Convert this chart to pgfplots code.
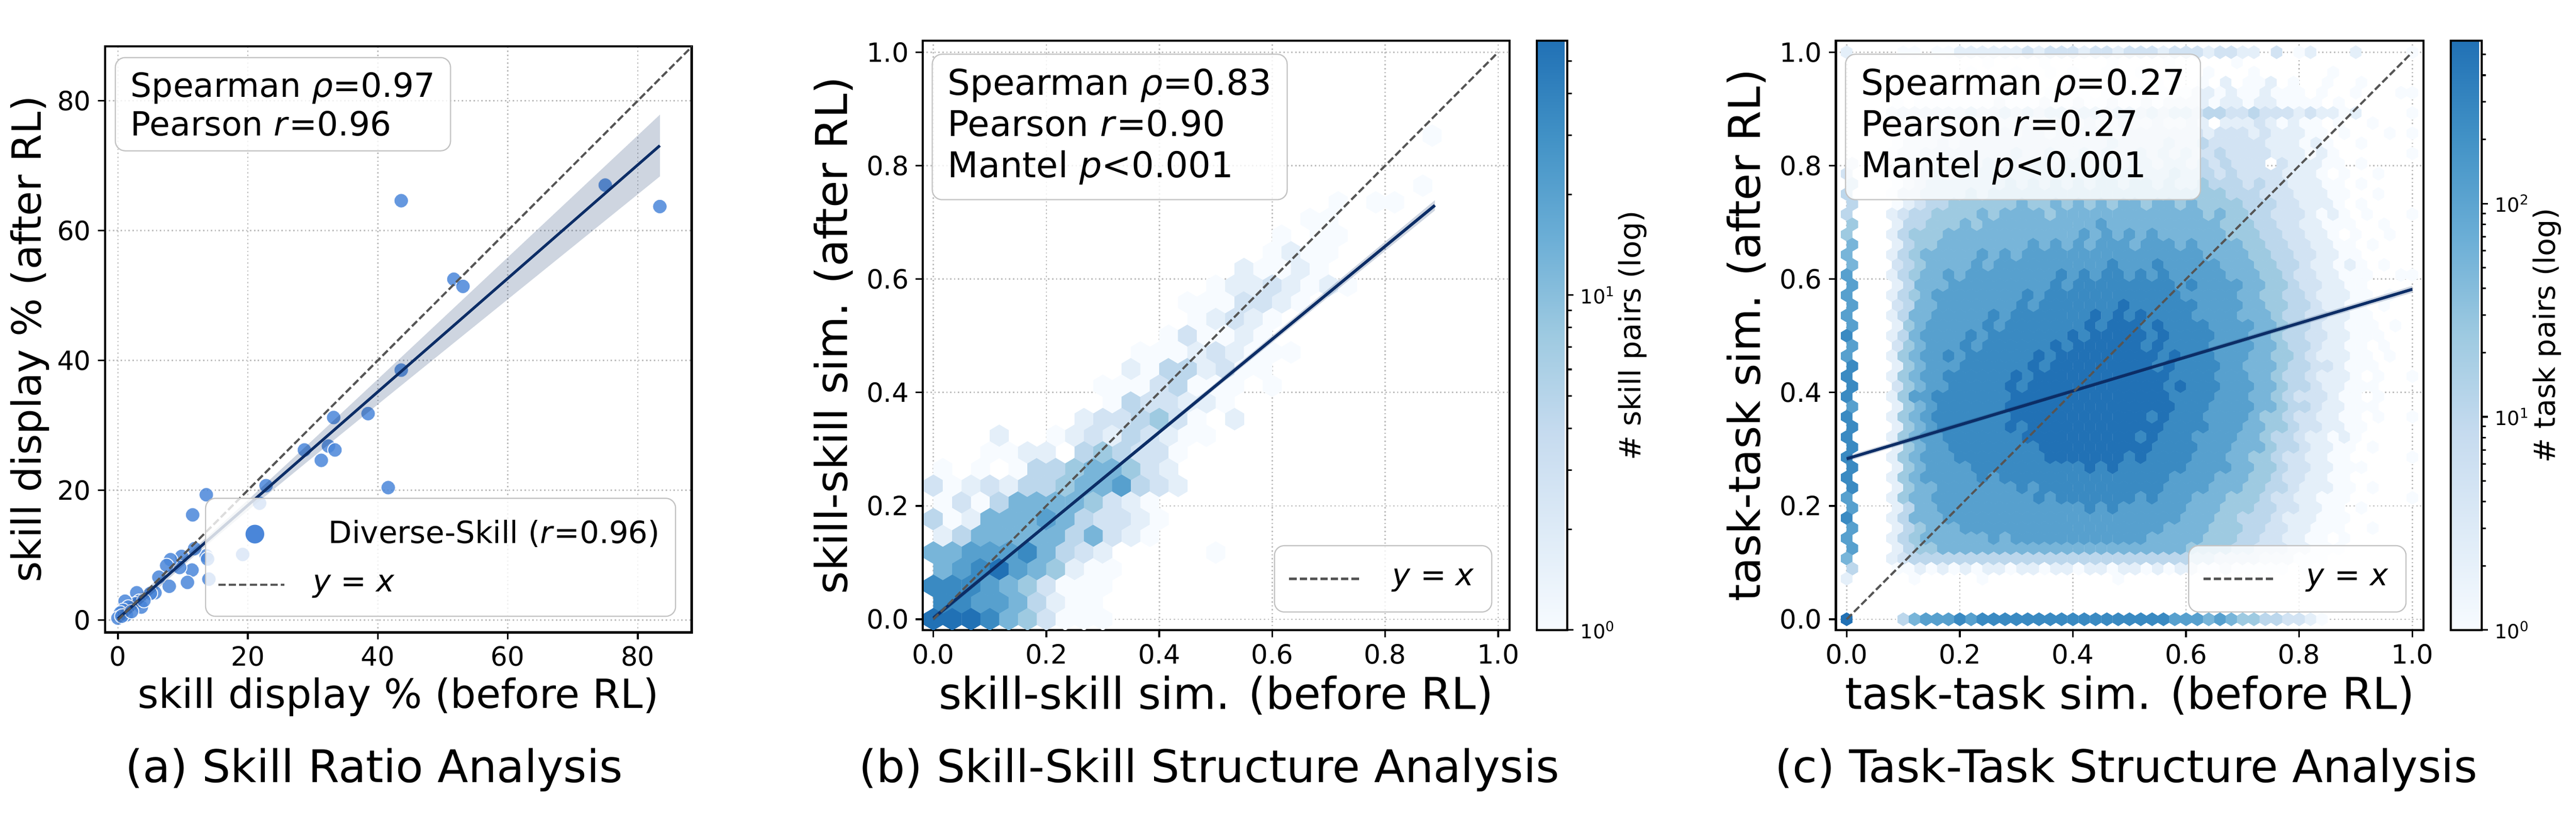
\documentclass[border=0pt]{standalone}
\usepackage{fontspec}
\setmainfont{DejaVu Sans}
\usepackage{pgfplots}
\usepackage{pgfplotstable}
\pgfplotsset{compat=1.18}

\definecolor{dotblue}{RGB}{74,134,217}
\definecolor{regnavy}{RGB}{12,45,102}
\definecolor{idgray}{RGB}{85,85,85}
\definecolor{boxgray}{RGB}{195,195,195}
\definecolor{gridgray}{RGB}{190,190,190}

% hexagon marks, sized to the axis scale (1 px = 0.24pt)
\pgfdeclareplotmark{hexb}{%
  \pgfpathmoveto{\pgfqpoint{0pt}{5.75pt}}%
  \pgfpathlineto{\pgfqpoint{4.86pt}{2.87pt}}%
  \pgfpathlineto{\pgfqpoint{4.86pt}{-2.87pt}}%
  \pgfpathlineto{\pgfqpoint{0pt}{-5.75pt}}%
  \pgfpathlineto{\pgfqpoint{-4.86pt}{-2.87pt}}%
  \pgfpathlineto{\pgfqpoint{-4.86pt}{2.87pt}}%
  \pgfpathclose\pgfusepathqfill}
\pgfdeclareplotmark{hexc}{%
  \pgfpathmoveto{\pgfqpoint{0pt}{3.50pt}}%
  \pgfpathlineto{\pgfqpoint{2.93pt}{1.75pt}}%
  \pgfpathlineto{\pgfqpoint{2.93pt}{-1.75pt}}%
  \pgfpathlineto{\pgfqpoint{0pt}{-3.50pt}}%
  \pgfpathlineto{\pgfqpoint{-2.93pt}{-1.75pt}}%
  \pgfpathlineto{\pgfqpoint{-2.93pt}{1.75pt}}%
  \pgfpathclose\pgfusepathqfill}

\pgfplotsset{
  colormap={bluestr}{rgb255=(247,251,255) rgb255=(222,235,247) rgb255=(198,219,239) rgb255=(158,202,225) rgb255=(107,174,214) rgb255=(66,146,198) rgb255=(33,113,181)},
  dotlegend/.style={legend image code/.code={\draw[draw=none] (0pt,0pt) -- (33.6pt,0pt);}},
  linelegend/.style={legend image code/.code={\draw[##1] (0pt,0pt) -- (#1,0pt);}},
  panel/.style={
    scale only axis,
    clip marker paths=true,
    axis line style={line width=1.1pt},
    tick style={black, line width=0.9pt},
    major tick length=3.6pt,
    tick align=outside,
    xtick pos=bottom, ytick pos=left,
    grid=major,
    major grid style={gridgray, line width=0.7pt, dash pattern=on 0.7pt off 1.3pt},
    tick label style={font=\fontsize{13.5}{16}\selectfont},
    /pgf/number format/assume math mode=true,
    every axis y label/.style={at={([xshift=-32.6pt]axis description cs:0,0.5)}, rotate=90, anchor=base},
    every axis x label/.style={at={([yshift=-38.6pt]axis description cs:0.5,0)}, anchor=base},
  },
  hexpanel/.style={
    panel,
    xmin=-0.019, xmax=1.02, ymin=-0.019, ymax=1.02,
    restrict y to domain=-1:2,
    xtick={0,0.2,0.4,0.6,0.8,1}, ytick={0,0.2,0.4,0.6,0.8,1},
    xticklabel style={/pgf/number format/.cd, fixed, fixed zerofill, precision=1},
    yticklabel style={/pgf/number format/.cd, fixed, fixed zerofill, precision=1},
    every axis y label/.style={at={([xshift=-38.6pt]axis description cs:0,0.5)}, rotate=90, anchor=base},
    every axis x label/.style={at={([yshift=-40.4pt]axis description cs:0.5,0)}, anchor=base},
    label style={font=\fontsize{22.4}{26}\selectfont},
    colormap name=bluestr,
    colorbar,
    legend style={at={(1,0)}, anchor=south east, xshift=-8.7pt, yshift=8.9pt,
      draw=boxgray, line width=0.6pt, rounded corners=5pt, fill=white, fill opacity=0.8,
      text opacity=1, draw opacity=1, font=\fontsize{15.6}{18}\selectfont,
      inner xsep=7pt, inner ysep=9.9pt,
      /tikz/every odd column/.append style={column sep=14pt}},
  },
  cbar/.style={
    at={(parent axis.north east)}, anchor=north west, xshift=5.4pt,
    width=15.6pt,
    grid=none,
    axis line style={line width=1.1pt},
    ytick pos=right, yticklabel pos=right,
    tick align=outside,
    major tick length=3.2pt, minor tick length=2.3pt,
    tick style={black, line width=0.8pt},
    yticklabel style={font=\fontsize{10}{12}\selectfont},
    every axis y label/.style={at={([xshift=37.4pt]axis description cs:1,0.5)}, rotate=90, anchor=base},
  },
}
\tikzset{statbox/.style={draw=boxgray, line width=0.6pt, rounded corners=5pt, fill=white,
  fill opacity=0.8, text opacity=1, align=left, anchor=north west, inner xsep=7.9pt, inner ysep=7.5pt}}
% legend symbol of the scatter series: a filled circle glyph set in the legend text
\newcommand\dotsym{\llap{\raisebox{1.4pt}{\makebox[0pt][c]{\fontsize{12.5}{12.5}\selectfont\textcolor{dotblue}{●}}}\hspace{37.4pt}}}

% hexbin counts of panel (b), as colour levels 1..9 (0 = empty hexagon)
% first column: row r (y = r/34, odd rows shifted by half a cell); then cells i = 0..27 (x = i/30)
\pgfplotstableread[header=false]{
29 0 0 0 0 0 0 0 0 0 0 0 0 0 0 0 0 0 0 0 0 0 0 0 0 0 0 1 0
26 0 0 0 0 0 0 0 0 0 0 0 0 0 0 0 0 0 0 0 0 0 0 0 0 0 0 1 0
25 0 0 0 0 0 0 0 0 0 0 0 0 0 0 0 0 0 0 0 0 0 1 0 1 1 0 0 0
24 0 0 0 0 0 0 0 0 0 0 0 0 0 0 0 0 0 0 0 0 1 1 0 0 0 0 0 0
23 0 0 0 0 0 0 0 0 0 0 0 0 0 0 0 0 0 0 1 0 1 1 0 0 0 0 0 0
22 0 0 0 0 0 0 0 0 0 0 0 0 0 0 0 0 0 0 1 2 1 1 0 0 0 0 0 0
21 0 0 0 0 0 0 0 0 0 0 0 0 0 0 0 0 2 1 1 2 1 0 0 0 0 0 0 0
20 0 0 0 0 0 0 0 0 0 0 0 0 0 0 0 1 2 2 3 2 1 2 1 0 0 0 0 0
19 0 0 0 0 0 0 0 0 0 0 0 0 0 1 1 1 3 3 2 1 0 0 0 0 0 0 0 0
18 0 0 0 0 0 0 0 0 0 0 0 0 0 0 1 2 3 2 1 0 0 0 0 0 0 0 0 0
17 0 0 0 0 0 0 0 0 0 0 0 0 1 3 1 1 2 1 0 0 0 0 0 0 0 0 0 0
16 0 0 0 0 0 0 0 0 0 0 0 1 1 1 2 3 2 1 1 1 0 0 0 0 0 0 0 0
15 0 0 0 0 0 0 0 0 0 0 2 1 4 4 2 3 1 1 0 0 0 0 0 0 0 0 0 0
14 0 0 0 0 0 0 0 0 0 1 1 1 3 4 1 1 1 0 1 0 0 0 0 0 0 0 0 0
13 0 0 0 0 0 0 0 0 0 1 4 3 3 2 2 1 0 0 0 0 0 0 0 0 0 0 0 0
12 0 0 0 0 0 0 0 0 2 3 3 4 5 3 1 0 2 0 0 0 0 0 0 0 0 0 0 0
11 0 0 0 2 0 0 1 2 3 2 4 3 2 1 1 0 0 0 0 0 0 0 0 0 0 0 0 0
10 0 0 0 1 1 2 2 0 4 5 4 3 3 1 0 0 0 0 0 0 0 0 0 0 0 0 0 0
9 1 0 1 0 1 4 4 5 6 6 5 3 2 0 0 0 0 0 0 0 0 0 0 0 0 0 0 0
8 3 1 2 3 2 4 4 5 6 6 7 4 3 2 0 0 0 0 0 0 0 0 0 0 0 0 0 0
7 1 3 1 4 6 6 6 6 5 3 2 1 0 0 0 0 0 0 0 0 0 0 0 0 0 0 0 0
6 4 1 2 6 6 6 7 6 4 3 3 2 1 0 0 0 0 0 0 0 0 0 0 0 0 0 0 0
5 2 4 6 6 6 6 6 4 6 3 2 1 0 0 0 0 0 0 0 0 0 0 0 0 0 0 0 0
4 6 6 7 7 7 8 6 4 3 2 0 0 0 0 0 1 0 0 0 0 0 0 0 0 0 0 0 0
3 6 7 8 9 7 6 5 2 1 1 0 0 0 0 0 0 0 0 0 0 0 0 0 0 0 0 0 0
2 8 8 8 7 6 5 3 1 1 1 0 0 0 0 0 0 0 0 0 0 0 0 0 0 0 0 0 0
1 8 8 7 7 6 4 2 1 1 0 0 0 0 0 0 0 0 0 0 0 0 0 0 0 0 0 0 0
0 9 9 9 8 6 5 3 1 1 1 0 0 0 0 0 0 0 0 0 0 0 0 0 0 0 0 0 0
}\hexB

% hexbin counts of panel (c): row r (y = r/56), cells i = 0..50 (x = i/50)
\pgfplotstableread[header=false]{
56 2 0 0 0 0 1 1 0 1 1 2 2 2 2 2 2 3 2 3 3 3 2 3 3 2 3 3 3 2 3 3 3 2 3 3 2 2 0 3 0 1 2 0 0 0 2 0 0 0 0 1
55 0 0 0 0 0 0 0 0 0 0 0 0 1 0 0 0 0 1 0 0 0 0 0 1 0 0 0 0 1 0 0 0 0 0 1 0 0 0 0 0 0 0 0 0 0 0 0 0 0 0 0
54 0 0 0 0 0 0 0 0 0 0 0 1 0 0 0 1 0 0 1 0 1 0 0 1 0 0 1 0 0 1 0 0 1 0 0 0 1 0 0 0 0 0 0 1 0 0 0 0 0 0 0
53 0 0 0 0 0 0 0 0 0 0 0 0 0 1 0 0 1 0 0 0 0 1 0 0 1 0 0 1 0 0 0 1 0 2 0 1 1 2 0 1 0 0 1 0 0 1 0 0 0 0 0
52 0 0 0 0 0 0 0 0 1 0 1 0 1 1 0 1 1 0 1 1 1 1 0 1 1 1 1 0 1 1 1 2 2 1 2 1 1 2 1 1 1 0 1 0 0 1 0 0 0 1 1
51 0 0 0 0 1 0 1 1 1 1 1 1 1 2 1 1 1 2 1 1 2 1 1 2 1 1 2 1 2 2 2 2 1 2 2 1 2 2 1 1 1 1 0 1 0 0 0 0 0 0 0
50 0 0 0 0 2 3 3 3 3 3 3 4 3 3 4 3 4 3 4 4 3 4 4 3 4 4 3 4 3 4 4 3 4 4 3 3 4 3 3 3 2 3 2 2 1 2 0 0 0 0 1
49 0 0 0 0 0 1 1 1 2 2 2 2 2 2 2 3 2 2 3 2 2 3 2 2 3 2 2 3 2 2 3 2 0 2 2 2 3 2 1 2 1 1 0 1 0 0 1 0 0 0 0
48 0 0 0 0 1 1 2 2 2 2 2 3 2 3 3 2 3 3 2 3 3 3 3 3 2 3 3 3 3 3 3 3 2 3 3 3 2 3 2 2 2 1 1 0 1 0 0 0 1 0 1
47 0 0 0 0 1 2 2 2 3 2 3 3 3 3 3 3 3 3 3 3 3 3 3 4 3 3 3 3 4 3 3 4 3 3 3 3 3 2 2 2 1 2 1 0 0 1 0 0 0 0 0
46 0 0 0 0 1 2 2 3 3 3 3 3 3 3 3 4 3 3 4 3 3 4 3 4 3 3 4 3 4 3 4 3 3 4 3 3 3 3 2 2 2 1 2 1 0 0 0 0 0 0 1
45 2 0 0 0 1 2 3 3 3 3 3 3 4 3 4 3 4 4 3 4 4 3 4 4 3 4 4 3 4 4 3 4 3 4 3 3 3 0 3 2 2 2 1 1 0 1 0 0 0 0 0
44 3 0 0 0 1 2 3 3 4 3 4 4 4 4 4 4 4 4 4 4 4 4 4 5 4 4 4 4 4 5 4 4 4 3 4 3 3 3 3 2 2 2 1 0 1 0 0 1 0 0 0
43 4 0 0 0 1 2 3 4 4 4 4 4 4 4 5 4 5 4 5 4 5 4 5 5 4 5 5 4 5 4 4 5 4 4 4 3 4 3 3 2 2 2 1 1 0 1 0 0 0 0 0
42 4 0 0 0 1 3 3 4 4 4 4 5 4 5 5 5 5 5 5 5 5 5 5 5 5 5 5 5 5 5 5 5 5 5 4 4 4 3 3 3 2 2 2 1 1 0 0 1 0 0 0
41 4 0 0 0 1 2 3 4 4 5 5 5 5 5 5 6 5 5 6 5 6 5 6 5 6 6 5 6 6 5 6 5 5 5 5 4 4 4 3 3 2 2 2 1 0 1 0 0 0 0 0
40 4 0 0 0 2 3 4 4 5 5 5 5 6 5 6 6 6 6 5 6 6 6 6 6 6 6 6 6 6 6 6 6 5 6 5 5 4 4 3 3 3 2 1 2 1 0 1 0 0 0 1
39 5 0 0 0 2 4 4 5 5 5 6 5 6 6 6 6 6 6 6 6 6 6 7 6 6 6 6 6 6 6 6 6 6 5 5 5 4 4 3 3 2 2 1 1 1 0 0 1 0 0 0
38 5 0 0 0 2 4 5 5 5 6 6 6 6 6 6 6 6 6 6 6 6 7 6 7 6 7 6 7 6 6 6 6 6 6 5 5 5 4 4 3 3 2 2 1 0 1 0 0 1 0 0
37 6 0 0 0 2 4 5 5 6 6 6 6 6 6 6 6 7 6 7 6 7 6 7 7 7 6 7 7 7 6 7 6 6 6 6 5 5 4 4 3 3 2 2 1 1 0 1 0 0 0 0
36 6 0 0 0 2 4 5 6 6 6 6 6 7 6 7 6 7 7 7 7 7 7 7 7 7 7 7 7 7 7 7 7 6 6 6 6 5 5 4 4 3 3 2 2 1 1 0 0 0 0 0
35 6 0 0 0 3 4 5 6 6 6 6 7 6 7 7 7 7 7 7 7 7 7 7 8 7 7 7 8 7 7 7 7 7 6 6 6 5 5 4 4 3 2 2 1 2 1 0 1 0 0 0
34 7 0 0 0 2 4 5 6 6 7 6 7 7 7 7 7 7 7 7 8 7 8 7 8 8 7 8 7 8 7 7 7 7 7 6 6 6 5 5 4 3 3 2 2 1 1 1 0 0 1 1
33 7 0 0 0 2 4 6 6 6 7 7 7 7 7 7 7 7 7 8 7 8 8 8 8 8 8 8 8 8 7 8 7 7 7 7 6 6 5 5 4 3 3 2 2 1 1 0 0 0 0 0
32 7 0 0 0 2 4 5 6 7 7 7 7 7 7 7 7 8 7 8 8 8 8 8 8 8 8 8 8 8 8 7 7 7 7 7 6 6 5 5 4 4 3 2 2 2 1 1 0 1 0 0
31 7 0 0 0 3 4 6 6 7 7 7 7 7 7 7 8 7 8 8 8 8 8 8 8 9 8 8 8 8 8 8 7 7 7 7 6 6 5 5 4 4 3 2 2 1 1 0 1 0 0 0
30 7 0 0 0 2 4 6 6 7 7 7 7 7 8 7 8 8 8 8 8 8 8 9 8 9 8 9 8 8 8 8 7 7 7 7 6 6 6 5 4 4 3 3 2 2 1 1 0 0 0 0
29 7 0 0 0 2 5 6 7 7 7 7 7 8 7 8 8 8 8 8 8 8 9 8 9 9 9 8 9 8 8 8 8 7 7 7 7 6 6 5 4 4 3 2 2 1 1 1 0 1 0 0
28 8 0 0 0 2 4 6 7 7 7 7 8 7 8 8 8 8 8 8 8 9 8 9 9 9 9 9 8 9 8 8 8 8 7 7 7 6 6 5 4 4 3 3 2 2 1 1 1 0 0 0
27 7 0 0 0 3 5 6 7 7 7 8 7 8 8 8 8 8 8 9 8 9 9 9 9 9 9 8 9 8 8 8 8 7 7 7 7 6 6 5 4 4 3 2 2 1 1 0 1 0 0 0
26 7 0 0 0 2 5 6 7 7 8 7 8 8 8 8 8 8 9 8 9 9 9 9 9 9 9 9 9 8 9 8 8 8 7 7 7 6 6 5 5 4 3 2 2 2 1 1 0 1 0 0
25 8 0 0 0 2 5 6 7 7 7 8 8 8 8 8 8 9 8 9 9 9 9 9 9 9 9 9 8 9 8 8 8 8 7 7 6 6 6 5 4 4 3 3 2 1 1 1 0 0 0 0
24 8 0 0 0 2 5 6 7 7 8 8 8 8 8 8 9 8 9 9 9 9 9 9 9 9 9 9 9 9 8 8 8 8 7 7 7 6 6 5 4 4 3 2 2 2 1 0 1 0 0 1
23 8 0 0 0 3 5 6 7 7 8 8 8 8 8 9 8 9 9 9 9 9 9 9 9 9 9 9 9 8 9 8 8 8 7 7 7 6 6 5 4 4 3 2 2 1 1 1 0 0 0 0
22 8 0 0 0 2 5 7 7 8 8 8 8 8 8 8 9 9 9 9 9 9 9 9 9 9 9 9 9 9 8 8 8 8 7 7 7 6 6 5 4 3 3 3 2 1 1 0 1 0 0 0
21 7 0 0 0 2 5 6 7 8 8 8 8 8 8 9 9 9 9 9 9 9 9 9 9 9 9 9 9 9 8 8 8 7 7 7 7 6 6 5 4 4 3 2 2 1 1 1 0 0 0 0
20 8 0 0 0 2 5 6 7 8 8 8 8 8 8 8 9 9 9 9 9 9 9 9 9 9 9 9 8 9 8 8 8 7 7 7 7 6 5 5 4 3 3 2 2 1 1 0 1 0 0 1
19 8 0 0 0 2 5 6 7 8 8 8 8 8 8 9 8 9 9 9 9 9 9 9 9 9 9 9 9 8 8 8 8 7 7 7 6 6 5 5 4 3 3 2 2 1 1 0 0 0 0 0
18 8 0 0 0 2 5 6 7 7 8 8 8 8 8 8 8 9 9 9 9 9 9 9 9 9 9 8 9 8 8 8 7 7 7 7 6 6 5 4 4 3 2 2 1 2 1 0 0 0 0 0
17 8 0 0 0 2 5 6 7 7 8 8 8 8 8 8 8 8 9 9 9 9 9 9 9 9 9 9 8 8 8 8 7 7 7 6 6 6 5 4 4 3 2 2 1 1 0 1 0 0 0 0
16 8 0 0 0 2 5 6 7 7 7 8 8 8 8 8 8 8 8 9 9 9 9 9 9 9 8 9 8 8 8 8 7 7 7 6 6 5 5 4 3 3 2 2 1 1 0 0 0 0 0 1
15 8 0 0 0 2 5 6 7 7 7 7 8 8 8 8 8 8 8 8 8 8 9 8 9 8 8 8 8 8 8 7 7 7 7 6 6 5 5 4 3 3 2 2 1 1 1 0 0 0 0 0
14 8 0 0 0 2 5 6 7 7 7 7 7 8 7 8 8 8 8 8 8 8 8 8 8 8 8 8 8 8 7 7 7 7 6 6 6 5 5 4 3 3 2 2 1 1 0 0 0 0 0 0
13 8 0 0 0 2 5 6 6 7 7 7 7 7 7 7 8 7 8 8 8 8 8 8 8 8 8 8 8 7 7 7 7 6 6 6 5 5 4 4 3 2 2 2 1 1 0 1 0 0 0 0
12 7 0 0 0 2 5 6 6 7 7 7 7 7 7 7 7 7 8 7 8 8 8 8 8 8 8 7 8 7 7 7 6 6 6 5 5 5 4 3 3 2 2 1 1 1 0 0 0 0 0 1
11 7 0 0 0 2 4 6 6 7 7 7 7 7 7 7 7 7 7 7 7 7 8 7 8 7 7 7 7 7 7 6 6 6 5 5 5 4 4 3 3 2 2 1 1 0 1 0 0 0 0 0
10 8 0 0 0 2 4 6 6 6 7 7 7 7 7 7 7 7 7 7 7 7 7 7 7 7 7 7 7 7 7 6 6 6 5 5 4 4 4 3 2 2 2 1 1 1 0 0 0 0 0 0
9 7 0 0 0 2 4 5 6 6 6 7 7 7 7 7 7 7 7 7 7 7 7 7 7 7 7 7 7 6 6 6 6 5 5 5 4 4 3 3 2 2 1 1 1 0 0 1 0 0 0 0
8 7 0 0 0 2 4 5 6 6 6 6 6 6 7 6 7 7 7 7 7 7 7 7 7 7 7 7 6 6 6 6 6 5 5 5 4 4 3 3 2 2 1 1 0 1 0 0 0 0 0 0
7 7 0 0 0 2 4 5 5 6 6 6 6 6 6 6 6 6 6 6 6 6 6 6 6 6 6 6 6 6 6 5 5 5 5 4 4 3 3 3 2 2 1 1 1 0 0 0 0 0 0 0
6 6 0 0 0 2 3 4 4 4 4 4 4 4 4 4 4 4 4 4 4 4 4 4 4 4 4 4 4 4 4 4 4 4 3 3 3 3 2 2 2 1 1 1 0 0 0 0 0 0 0 0
5 4 0 0 0 1 1 2 1 2 1 2 1 2 2 1 2 2 1 2 2 1 2 2 1 2 2 1 2 1 2 2 1 1 2 1 1 1 1 1 0 1 0 0 0 0 0 0 0 0 0 0
4 2 0 0 0 0 0 1 0 0 0 0 0 1 0 0 0 0 0 0 0 0 0 0 0 1 0 0 0 0 0 0 0 0 0 0 0 0 0 0 0 0 0 0 0 0 0 0 0 0 0 0
0 9 0 0 0 0 4 6 7 7 7 8 7 8 8 8 8 8 8 8 8 8 8 8 8 8 8 8 8 8 7 7 7 6 7 6 5 5 4 4 3 3 2 1 0 0 0 0 0 0 0 0
}\hexC

\begin{document}
\begin{tikzpicture}
\path[use as bounding box] (0pt,0pt) rectangle (1314pt,-423.36pt);

% ---------------- (a) skill ratio ----------------
\begin{axis}[panel,
  at={(53.52pt,-322.56pt)}, anchor=south west,
  width=299.3pt, height=299.0pt,
  xmin=-2, xmax=88.3, ymin=-1.9, ymax=88.4,
  xtick={0,20,40,60,80}, ytick={0,20,40,60,80},
  xlabel={skill display \% (before RL)},
  ylabel={skill display \% (after RL)},
  label style={font=\fontsize{20.5}{24}\selectfont},
  legend cell align=left,
  legend style={at={(1,0)}, anchor=south east, xshift=-7.9pt, yshift=7.9pt,
    draw=boxgray, line width=0.6pt, rounded corners=5pt, fill=white, fill opacity=0.8,
    text opacity=1, draw opacity=1, font=\fontsize{15.6}{18}\selectfont,
    inner xsep=6pt, inner ysep=9.1pt, row sep=10.6pt,
    /tikz/every odd column/.append style={column sep=12pt}},
]
\addplot[only marks, mark=*, mark size=3.7pt,
  mark options={fill=dotblue, fill opacity=0.85, draw=white, draw opacity=0.9, line width=0.5pt},
  dotlegend]
coordinates {
(43.6,64.6) (75.0,67.0) (83.4,63.7) (51.7,52.5) (53.1,51.4) (43.6,38.5) (38.5,31.8)
(33.2,31.2) (28.7,26.2) (32.4,26.8) (33.4,26.2) (31.3,24.6) (41.6,20.4) (22.8,20.7)
(21.8,18.0) (13.6,19.3) (11.5,16.2) (19.2,10.1) (13.6,9.9) (13.8,9.4) (11.8,11.0)
(11.4,7.7) (10.7,5.8) (14.0,6.3) (9.8,9.8) (9.5,8.1) (8.1,9.3) (7.5,8.4) (7.9,5.2)
(6.3,6.6) (5.7,4.2) (5.0,4.1) (2.9,4.2) (3.3,2.9) (2.7,2.5) (1.1,2.9) (1.6,2.0)
(0.8,1.5) (0.4,1.1) (0.0,0.3) (1.3,0.8) (3.6,2.0) (4.0,3.0) (0.6,0.6) (2.1,1.3)
};
\addlegendentry{\hspace*{8pt}\dotsym Diverse-Skill (\textit{r}=0.96)}
\addplot[forget plot, draw=none, fill=regnavy, fill opacity=0.2] coordinates {
(0,1.19) (5,5.33) (10,9.55) (15,13.94) (20,18.48) (30,27.75) (40,37.10) (50,46.48) (60,55.87) (70,65.26) (83.4,77.84)
(83.4,68.34) (70,57.50) (60,49.41) (50,41.32) (40,33.22) (30,25.09) (20,16.88) (15,12.68) (10,8.33) (5,3.81) (0,-0.79)
} -- cycle;
\addplot[forget plot, regnavy, line width=1.4pt] coordinates {(0,0.2) (83.4,73.09)};
\addplot[idgray, line width=1.1pt, dash pattern=on 3.7pt off 1.6pt, linelegend=33.6pt]
  coordinates {(0,0) (90,90)};
\addlegendentry{\textit{y} = \textit{x}}
\node[statbox, font=\fontsize{17}{19.7}\selectfont] at ([xshift=5pt,yshift=-5.5pt]rel axis cs:0,1)
  {Spearman \textit{ρ}=0.97\\Pearson \textit{r}=0.96};
\end{axis}

% ---------------- (b) skill-skill ----------------
\begin{axis}[hexpanel,
  at={(470.64pt,-321.36pt)}, anchor=south west,
  width=299.3pt, height=300.5pt,
  xlabel={skill-skill sim. (before RL)},
  ylabel={skill-skill sim. (after RL)},
  point meta min=0, point meta max=1.759,
  colorbar style={cbar,
    ytick={0,1}, yticklabels={10\textsuperscript{0},10\textsuperscript{1}},
    minor ytick={0.30103,0.47712,0.60206,0.69897,0.77815,0.84510,0.90309,0.95424,1.30103,1.47712,1.60206,1.69897},
    ylabel={\fontsize{15}{18}\selectfont\# skill pairs (log)}},
]
\pgfplotsinvokeforeach{1,...,28}{
  \addplot[forget plot, scatter, only marks, mark=hexb, point meta=explicit]
  table[x expr={(#1-1+0.5*mod(\thisrowno{0},2))/30},
        y expr={\thisrowno{0}/34 + 100*(\thisrowno{#1}<0.5)},
        meta expr={(\thisrowno{#1}-1)*0.21988}] {\hexB};
}
\addplot[forget plot, draw=none, fill=regnavy, fill opacity=0.2] coordinates {
(0,0.007) (0.2,0.169) (0.4,0.334) (0.6,0.500) (0.888,0.739)
(0.888,0.721) (0.6,0.488) (0.4,0.326) (0.2,0.163) (0,-0.003)
} -- cycle;
\addplot[forget plot, regnavy, line width=1.5pt] coordinates {(0,0.002) (0.888,0.730)};
\addplot[idgray, line width=1.1pt, dash pattern=on 3.7pt off 1.6pt, linelegend=36pt]
  coordinates {(0,0) (1,1)};
\addlegendentry{\textit{y} = \textit{x}}
\node[statbox, font=\fontsize{18.1}{21}\selectfont] at ([xshift=4.6pt,yshift=-6.5pt]rel axis cs:0,1)
  {Spearman \textit{ρ}=0.83\\Pearson \textit{r}=0.90\\Mantel \textit{p}<0.001};
\end{axis}

% ---------------- (c) task-task ----------------
\begin{axis}[hexpanel,
  at={(936.48pt,-321.36pt)}, anchor=south west,
  width=299.8pt, height=300.5pt,
  xlabel={task-task sim. (before RL)},
  ylabel={task-task sim. (after RL)},
  point meta min=0, point meta max=2.763,
  colorbar style={cbar,
    ytick={0,1,2}, yticklabels={10\textsuperscript{0},10\textsuperscript{1},10\textsuperscript{2}},
    minor ytick={0.30103,0.47712,0.60206,0.69897,0.77815,0.84510,0.90309,0.95424,1.30103,1.47712,1.60206,1.69897,1.77815,1.84510,1.90309,1.95424,2.30103,2.47712,2.60206,2.69897},
    ylabel={\fontsize{15}{18}\selectfont\# task pairs (log)}},
]
\pgfplotsinvokeforeach{1,...,51}{
  \addplot[forget plot, scatter, only marks, mark=hexc, point meta=explicit]
  table[x expr={(#1-1+0.5*mod(\thisrowno{0},2))/50},
        y expr={\thisrowno{0}/56 + 100*(\thisrowno{#1}<0.5)},
        meta expr={(\thisrowno{#1}-1)*0.34538}] {\hexC};
}
\addplot[forget plot, draw=none, fill=regnavy, fill opacity=0.2] coordinates {
(0,0.288) (0.5,0.436) (1,0.588) (1,0.576) (0.5,0.430) (0,0.278)
} -- cycle;
\addplot[forget plot, regnavy, line width=1.5pt] coordinates {(0,0.283) (1,0.582)};
\addplot[idgray, line width=1.1pt, dash pattern=on 3.7pt off 1.6pt, linelegend=36pt]
  coordinates {(0,0) (1,1)};
\addlegendentry{\textit{y} = \textit{x}}
\node[statbox, font=\fontsize{18.1}{21}\selectfont] at ([xshift=4.6pt,yshift=-6.5pt]rel axis cs:0,1)
  {Spearman \textit{ρ}=0.27\\Pearson \textit{r}=0.27\\Mantel \textit{p}<0.001};
\end{axis}

% captions
\node[font=\fontsize{22.9}{27}\selectfont, anchor=base] at (190.8pt,-399.12pt) {(a) Skill Ratio Analysis};
\node[font=\fontsize{22.9}{27}\selectfont, anchor=base] at (616.8pt,-399.12pt) {(b) Skill-Skill Structure Analysis};
\node[font=\fontsize{22.9}{27}\selectfont, anchor=base] at (1084.56pt,-399.12pt) {(c) Task-Task Structure Analysis};
\end{tikzpicture}
\end{document}
